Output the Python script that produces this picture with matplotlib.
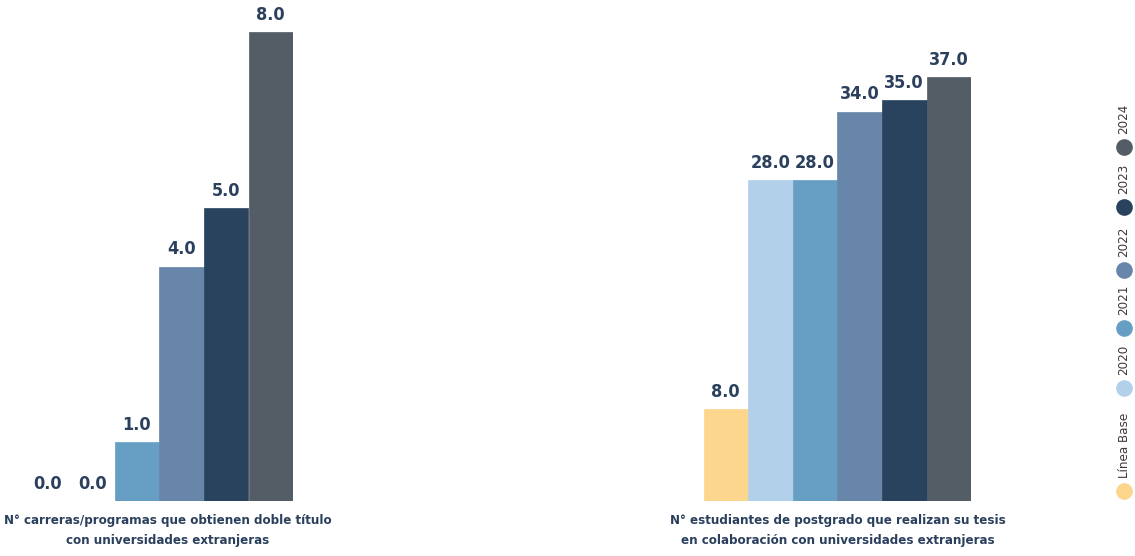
import matplotlib.pyplot as plt
from matplotlib.lines import Line2D

# data
series = ["Línea Base", "2020", "2021", "2022", "2023", "2024"]
colors = ["#FBD68C", "#B3D0EB", "#679FC4", "#6786A9", "#29435F", "#545C66"]
grupo1 = [0.0, 0.0, 1.0, 4.0, 5.0, 8.0]
grupo2 = [8.0, 28.0, 28.0, 34.0, 35.0, 37.0]
titulos = ["N° carreras/programas que obtienen doble título\ncon universidades extranjeras",
           "N° estudiantes de postgrado que realizan su tesis\nen colaboración con universidades extranjeras"]

W, H = 1135, 556
TXT = "#2B405D"
plt.rcParams["font.family"] = "DejaVu Sans"
plt.rcParams["font.stretch"] = "condensed"

fig = plt.figure(figsize=(W / 100, H / 100), dpi=100)

def draw_group(left_px, values, ymax, title, title_x):
    # axes box in pixels: 6 bars of 44.6 px, baseline at y=501
    width_px = 44.6 * 6
    ax = fig.add_axes([left_px / W, (H - 501) / H, width_px / W, 481 / H])
    x = range(len(values))
    ax.bar(x, values, width=1.0, color=colors, edgecolor=colors, linewidth=0.5)
    ax.set_xlim(-0.5, len(values) - 0.5)
    ax.set_ylim(0, ymax)
    for xi, v in zip(x, values):
        ax.annotate(f"{v:.1f}", (xi, v), xytext=(0, 6), textcoords="offset points",
                    ha="center", va="bottom", fontsize=13, fontweight="bold",
                    color=TXT, stretch="condensed")
    fig.text(title_x / W, 1 - 514 / H, title, ha="center", va="top",
             fontsize=9.5, fontweight="bold", color=TXT, linespacing=1.7,
             stretch="condensed")
    ax.axis("off")
    return ax

draw_group(25.5, grupo1, 8.21, titulos[0], 167.5)
draw_group(703.5, grupo2, 42.0, titulos[1], 838)

# legend (vertical, rotated labels)
circle_y = [491, 388, 328, 270, 207, 147]
for name, c, cy in zip(series, colors, circle_y):
    fx = 1124 / W
    fig.add_artist(Line2D([fx], [1 - cy / H], transform=fig.transFigure, marker="o",
                          markersize=12, color=c, markeredgewidth=0, linestyle="none"))
    fig.text(fx, 1 - (cy - 13) / H, name, rotation=90, ha="center", va="bottom",
             fontsize=9.5, color="#3A3A3A", stretch="condensed")

fig.savefig("out.png", dpi=100)
